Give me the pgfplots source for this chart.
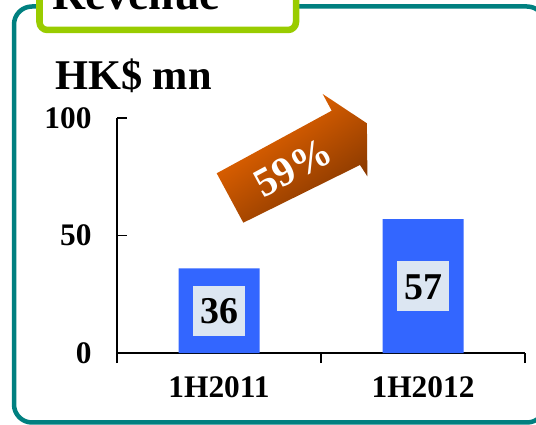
\documentclass[border=0pt]{standalone}
\usepackage{pgfplots}
\pgfplotsset{compat=1.18}
\usepackage{fontspec}
\setmainfont{Liberation Serif}
\definecolor{tealbox}{HTML}{008080}
\definecolor{greenbox}{HTML}{99CC00}
\definecolor{barblue}{HTML}{3366FF}
\definecolor{labelbox}{HTML}{DCE6F2}
\definecolor{arrorange}{HTML}{F86C00}
\definecolor{arrbrown}{HTML}{7E3400}
\begin{document}
\begin{tikzpicture}
\useasboundingbox (0,0) rectangle (536bp,425bp);
\clip (0,0) rectangle (536bp,425bp);
\begin{scope}[x=1bp,y=-1bp,yshift=425bp]
 \draw[tealbox, line width=4.5bp, rounded corners=18bp] (14,6.5) rectangle (545,422.5);
 \draw[greenbox, line width=6.5bp, fill=white, rounded corners=8bp] (39.5,-40) rectangle (296,30);
 \node[anchor=base west, font=\fontsize{46}{50}\selectfont\bfseries, inner sep=0pt] at (52,10) {Revenue};
 \node[anchor=base west, font=\fontsize{42.5}{48}\selectfont\bfseries, inner sep=0pt] at (55,90) {HK\$ mn};
\end{scope}
\begin{axis}[at={(117bp,72bp)}, anchor=south west, scale only axis,
 width=408bp, height=235bp,
 xmin=-0.5, xmax=1.5, ymin=0, ymax=100,
 axis x line*=bottom, axis y line*=left,
 axis line style={line width=2bp, -},
 xtick={0,1}, xticklabels={1H2011,1H2012},
 major x tick style={draw=none},
 minor xtick={-0.5,0.5,1.5}, minor tick length=10bp,
 ytick={0,50,100}, major tick length=10bp, tick align=inside,
 tick style={line width=1.5bp, black},
 ticklabel style={font=\fontsize{31.5}{36}\selectfont\bfseries},
 yticklabel style={xshift=-22bp},
 xticklabel style={yshift=-10bp},
 /pgf/number format/assume math mode=true,
 ybar, bar width=81bp,
 clip=false]
\addplot[fill=barblue, draw=none,
  nodes near coords,
  nodes near coords align={center},
  visualization depends on={y \as \rawy},
  every node near coord/.append style={anchor=center, yshift={-\rawy*1.175bp},
    fill=labelbox, text=black, font=\fontsize{38}{40}\selectfont\bfseries,
    text height=26bp, text depth=0bp, inner xsep=7.5bp, inner ysep=12bp}]
 coordinates {(0,36) (1,57)};
\end{axis}
\begin{scope}[x=1bp,y=-1bp,yshift=425bp]
 \shade[top color=arrorange, bottom color=arrbrown, shading angle=35]
  (216.7,173.3) -- (331.7,110.7) -- (322.7,94) -- (366.9,123.3) -- (367.4,176.4) -- (360,165) -- (243.3,222.7) -- cycle;
 \node[rotate=28.5, text=white, inner sep=0pt, font=\fontsize{41}{43}\selectfont\bfseries] at (293,167.5) {59\%};
\end{scope}
\end{tikzpicture}
\end{document}
